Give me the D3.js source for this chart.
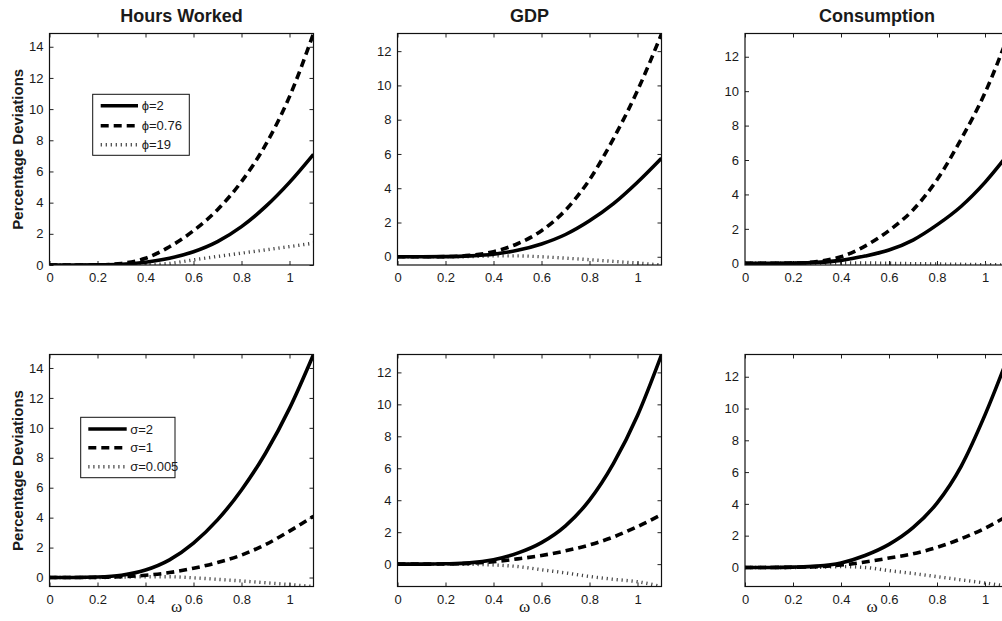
<!doctype html>
<html lang="en">
<head>
<meta charset="utf-8">
<style>
  body { margin: 0; background: #fff; }
  text { font-family: "Liberation Sans", Arial, Helvetica, sans-serif; fill: #1a1a1a; }
  .title { font-weight: bold; font-size: 18px; }
  .ylab { font-weight: bold; font-size: 15px; }
  .xlab { font-family: "Liberation Serif", "Times New Roman", serif; font-size: 17px; }
  .tick text { font-size: 13px; }
  .legend text { font-size: 13px; }
</style>
</head>
<body>
<script src="https://cdn.jsdelivr.net/npm/d3@7"></script>
<script>
// omega grid
var omega = [0, 0.1, 0.2, 0.3, 0.4, 0.5, 0.6, 0.7, 0.8, 0.9, 1.0, 1.1];

// top row: phi experiments
var hoursPhi2   = [0, 0, 0.01, 0.05, 0.18, 0.43, 0.85, 1.5, 2.46, 3.74, 5.3, 7.1];
var hoursPhi076 = [0, 0, 0.01, 0.1, 0.43, 1.17, 2.2, 3.55, 5.35, 7.7, 10.8, 14.85];
var hoursPhi19  = [0, 0, 0, 0, 0.02, 0.1, 0.33, 0.55, 0.76, 0.97, 1.18, 1.4];

var gdpPhi2   = [0, 0, 0.01, 0.05, 0.15, 0.38, 0.75, 1.3, 2.1, 3.1, 4.35, 5.75];
var gdpPhi076 = [0, 0, 0.01, 0.08, 0.3, 0.76, 1.52, 2.72, 4.5, 6.9, 9.7, 13.0];
var gdpPhi19  = [0, 0, 0, 0.01, 0.05, 0.05, 0.0, -0.08, -0.17, -0.27, -0.37, -0.48];

var consPhi2   = [0, 0, 0.01, 0.05, 0.17, 0.42, 0.77, 1.35, 2.23, 3.3, 4.7, 6.4];
var consPhi076 = [0, 0, 0.01, 0.1, 0.38, 1.0, 1.9, 3.1, 4.85, 7.2, 9.9, 13.35];
var consPhi19  = [0, 0, 0, 0.01, 0.02, 0.02, 0, -0.02, -0.04, -0.06, -0.08, -0.1];

// bottom row: sigma experiments
var hoursSig2    = [0, 0, 0.03, 0.15, 0.5, 1.18, 2.3, 3.85, 5.85, 8.3, 11.3, 14.9];
var hoursSig1    = [0, 0, 0.01, 0.05, 0.15, 0.33, 0.62, 1.0, 1.5, 2.2, 3.1, 4.1];
var hoursSig0005 = [0, 0, 0, 0.02, 0.05, 0.05, -0.02, -0.12, -0.23, -0.35, -0.47, -0.6];

var gdpSig2    = [0, 0, 0.02, 0.08, 0.28, 0.69, 1.35, 2.4, 4.0, 6.3, 9.3, 13.1];
var gdpSig1    = [0, 0, 0.01, 0.05, 0.15, 0.33, 0.54, 0.83, 1.2, 1.7, 2.35, 3.1];
var gdpSig0005 = [0, 0, 0, -0.01, -0.05, -0.15, -0.35, -0.55, -0.77, -0.95, -1.1, -1.4];

var consSig2    = [0, 0, 0.02, 0.08, 0.28, 0.75, 1.45, 2.5, 4.05, 6.35, 9.6, 13.4];
var consSig1    = [0, 0, 0.01, 0.05, 0.15, 0.34, 0.59, 0.86, 1.26, 1.8, 2.47, 3.3];
var consSig0005 = [0, 0, 0, 0.01, 0.05, 0.0, -0.2, -0.38, -0.58, -0.78, -0.98, -1.2];

var titles = ["Hours Worked", "GDP", "Consumption"];
var phiLabels = ["\u03D5=2", "\u03D5=0.76", "\u03D5=19"];
var sigLabels = ["\u03C3=2", "\u03C3=1", "\u03C3=0.005"];
var xTicks = [0, 0.2, 0.4, 0.6, 0.8, 1];
var yTicksHours = [0, 2, 4, 6, 8, 10, 12, 14];
var yTicksOther = [0, 2, 4, 6, 8, 10, 12];

var width = 1002, height = 621;
var colLeft = [49.5, 397.5, 745];
var rowTop = [33.5, 354.5];
var pw = 264, ph = [231.5, 232];

var panels = [
  {row: 0, col: 0, y: [0, 14.85], yt: yTicksHours, s: [hoursPhi2, hoursPhi076, hoursPhi19], legend: phiLabels},
  {row: 0, col: 1, y: [-0.48, 13.03], yt: yTicksOther, s: [gdpPhi2, gdpPhi076, gdpPhi19]},
  {row: 0, col: 2, y: [-0.1, 13.35], yt: yTicksOther, s: [consPhi2, consPhi076, consPhi19]},
  {row: 1, col: 0, y: [-0.6, 14.9], yt: yTicksHours, s: [hoursSig2, hoursSig1, hoursSig0005], legend: sigLabels},
  {row: 1, col: 1, y: [-1.4, 13.12], yt: yTicksOther, s: [gdpSig2, gdpSig1, gdpSig0005]},
  {row: 1, col: 2, y: [-1.2, 13.4], yt: yTicksOther, s: [consSig2, consSig1, consSig0005]}
];

// solid, dashed, dotted
var styles = [
  {w: 3.6, dash: null, color: "#000"},
  {w: 3.6, dash: "8,5", color: "#000"},
  {w: 3.4, dash: "1.2,3.8", color: "#444"}
];

var svg = d3.select("body").append("svg")
    .attr("width", width)
    .attr("height", height);

panels.forEach(function(p, i) {
  var h = ph[p.row];
  var g = svg.append("g")
      .attr("transform", "translate(" + colLeft[p.col] + "," + rowTop[p.row] + ")");

  var x = d3.scaleLinear().domain([0, 1.1]).range([0, pw]);
  var y = d3.scaleLinear().domain(p.y).range([h, 0]);

  g.append("clipPath").attr("id", "clip" + i)
    .append("rect").attr("width", pw).attr("height", h);

  var fmt = function(d) { return String(d); };
  g.append("g").attr("transform", "translate(0," + h + ")")
    .call(d3.axisBottom(x).tickValues(xTicks).tickFormat(fmt).tickSizeInner(-4).tickSizeOuter(0).tickPadding(8));
  g.append("g")
    .call(d3.axisTop(x).tickValues(xTicks).tickFormat("").tickSizeInner(-4).tickSizeOuter(0));
  g.append("g")
    .call(d3.axisLeft(y).tickValues(p.yt).tickFormat(fmt).tickSizeInner(-4).tickSizeOuter(0).tickPadding(6));
  g.append("g").attr("transform", "translate(" + pw + ",0)")
    .call(d3.axisRight(y).tickValues(p.yt).tickFormat("").tickSizeInner(-4).tickSizeOuter(0));
  g.selectAll(".domain").remove();
  g.selectAll(".tick line").attr("stroke", "#222");

  var line = d3.line()
      .x(function(d, j) { return x(omega[j]); })
      .y(function(d) { return y(d); })
      .curve(d3.curveMonotoneX);

  var lines = g.append("g").attr("clip-path", "url(#clip" + i + ")");
  // dotted first, then dashed, then solid on top
  [2, 1, 0].forEach(function(k) {
    lines.append("path")
      .attr("d", line(p.s[k]))
      .attr("fill", "none")
      .attr("stroke", styles[k].color)
      .attr("stroke-width", styles[k].w)
      .attr("stroke-dasharray", styles[k].dash);
  });

  g.append("rect")
    .attr("width", pw).attr("height", h)
    .attr("fill", "none").attr("stroke", "#111").attr("stroke-width", 1.2);

  if (p.row === 0) {
    g.append("text").attr("class", "title")
      .attr("x", pw / 2).attr("y", -12)
      .attr("text-anchor", "middle")
      .text(titles[p.col]);
  }
  if (p.row === 1) {
    g.append("text").attr("class", "xlab")
      .attr("x", pw / 2 - 5).attr("y", h + 25)
      .attr("text-anchor", "middle")
      .text("\u03C9");
  }
  if (p.col === 0) {
    g.append("text").attr("class", "ylab")
      .attr("transform", "translate(-27," + (h / 2) + ") rotate(-90)")
      .attr("text-anchor", "middle")
      .text("Percentage Deviations");
  }

  if (p.legend) {
    var lg = p.row === 0
      ? {x: 43.2, y: 60.8, w: 96.6, h: 61, lx0: 8, lx1: 45.3, tx: 49, rows: [11.5, 31.5, 50.5]}
      : {x: 31.2, y: 62.8, w: 94.3, h: 60.4, lx0: 7.6, lx1: 46, tx: 49.5, rows: [11.7, 30.4, 49.4]};
    var leg = g.append("g").attr("class", "legend")
      .attr("transform", "translate(" + lg.x + "," + lg.y + ")");
    leg.append("rect").attr("width", lg.w).attr("height", lg.h)
      .attr("fill", "#fff").attr("stroke", "#111").attr("stroke-width", 1);
    p.legend.forEach(function(lbl, k) {
      leg.append("line")
        .attr("x1", lg.lx0).attr("x2", lg.lx1)
        .attr("y1", lg.rows[k]).attr("y2", lg.rows[k])
        .attr("stroke", styles[k].color)
        .attr("stroke-width", styles[k].w)
        .attr("stroke-dasharray", styles[k].dash);
      leg.append("text")
        .attr("x", lg.tx).attr("y", lg.rows[k]).attr("dy", "0.35em")
        .text(lbl);
    });
  }
});
</script>
</body>
</html>
